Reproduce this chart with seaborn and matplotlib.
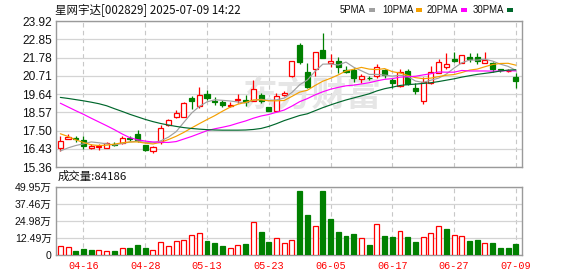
import numpy as np
import matplotlib
matplotlib.use("Agg")
import matplotlib.pyplot as plt
from matplotlib.patches import Rectangle
import seaborn as sns

# ---------------- data ----------------
title_text = "星网宇达[002829] 2025-07-09 14:22"
volume_caption = "成交量:84186"
watermark_text = "东方财富"

dates = ["04-11", "04-14", "04-15", "04-16", "04-17", "04-18", "04-21", "04-22", "04-23", "04-24",
         "04-25", "04-28", "04-29", "04-30", "05-06", "05-07", "05-08", "05-09", "05-12", "05-13",
         "05-14", "05-15", "05-16", "05-19", "05-20", "05-21", "05-22", "05-23", "05-26", "05-27",
         "05-28", "05-29", "05-30", "06-03", "06-04", "06-05", "06-06", "06-09", "06-10", "06-11",
         "06-12", "06-13", "06-16", "06-17", "06-18", "06-19", "06-20", "06-23", "06-24", "06-25",
         "06-26", "06-27", "06-30", "07-01", "07-02", "07-03", "07-04", "07-07", "07-08", "07-09"]

opens = [16.50, 17.02, 17.07, 16.97, 16.48, 16.54, 16.50, 16.70, 16.77, 17.05,
         17.30, 16.63, 16.32, 16.83, 17.80, 18.28, 18.30, 19.42, 18.93, 19.65,
         19.25, 19.18, 18.93, 19.26, 19.28, 19.24, 19.58, 18.85, 18.65, 19.57,
         20.70, 22.52, 20.92, 21.10, 22.22, 21.48, 21.57, 21.05, 21.02, 20.50,
         20.60, 20.70, 21.05, 20.46, 20.10, 20.97, 19.97, 19.21, 20.31, 20.90,
         21.22, 21.69, 21.48, 21.83, 21.79, 21.47, 21.44, 21.08, 20.97, 20.65]
highs = [17.16, 17.30, 17.17, 17.16, 16.73, 16.73, 16.81, 16.85, 17.16, 17.20,
         17.52, 16.63, 16.62, 17.83, 18.16, 18.70, 19.16, 19.54, 20.07, 19.85,
         19.45, 19.30, 19.15, 19.63, 19.56, 20.46, 19.67, 18.85, 19.71, 19.83,
         21.57, 22.65, 21.46, 22.08, 23.22, 21.98, 21.79, 21.26, 21.17, 20.83,
         20.69, 21.42, 21.08, 20.60, 21.12, 21.08, 20.31, 20.66, 21.27, 21.68,
         22.02, 22.12, 21.95, 22.03, 22.06, 22.12, 21.54, 21.12, 21.10, 20.85]
lows = [16.30, 16.98, 16.83, 16.44, 16.44, 16.34, 16.50, 16.62, 16.73, 16.90,
        16.83, 16.30, 16.17, 16.70, 17.77, 18.25, 18.29, 18.78, 18.79, 19.30,
        18.99, 18.90, 18.89, 19.09, 18.93, 19.24, 19.09, 18.62, 18.65, 19.53,
        20.65, 21.40, 19.97, 20.72, 21.73, 21.20, 20.90, 20.85, 20.33, 20.26,
        20.46, 20.55, 20.58, 20.00, 20.06, 20.16, 19.63, 19.05, 20.21, 20.85,
        21.09, 21.54, 21.46, 21.54, 21.40, 21.45, 20.95, 20.95, 20.95, 20.00]
closes = [16.87, 17.10, 17.00, 16.62, 16.58, 16.62, 16.77, 16.66, 17.05, 17.00,
          16.92, 16.36, 16.55, 17.62, 18.10, 18.52, 19.12, 19.22, 19.60, 19.42,
          19.15, 18.97, 19.00, 19.32, 19.17, 19.91, 19.24, 18.65, 19.52, 19.67,
          21.55, 21.50, 20.07, 22.08, 21.75, 21.58, 21.20, 20.95, 20.58, 20.69,
          20.55, 21.20, 20.73, 20.26, 20.95, 20.22, 19.83, 20.36, 20.91, 21.54,
          21.40, 21.59, 21.93, 21.67, 21.57, 21.62, 21.08, 21.03, 21.00, 20.40]
volumes_wan = [6.6, 5.9, 3.2, 4.4, 3.9, 3.9, 2.9, 3.2, 4.9, 5.1,
               7.6, 5.1, 3.7, 9.6, 6.6, 10.5, 11.0, 14.7, 16.2, 10.5,
               9.1, 6.9, 5.1, 7.3, 8.3, 24.5, 17.1, 9.8, 12.5, 8.8,
               11.0, 47.3, 29.4, 21.3, 47.0, 26.4, 17.1, 14.0, 15.4, 12.2,
               7.3, 22.8, 14.0, 13.2, 17.6, 13.2, 9.8, 13.2, 16.2, 21.1,
               19.1, 14.7, 14.0, 10.5, 11.0, 8.8, 9.1, 5.4, 5.4, 8.42]

ma5 = [16.30, 16.48, 16.62, 16.72, 16.83, 16.78, 16.72, 16.65, 16.74, 16.82,
       16.88, 16.80, 16.78, 16.89, 17.11, 17.43, 17.98, 18.52, 18.91, 19.18,
       19.30, 19.27, 19.23, 19.17, 19.12, 19.27, 19.33, 19.26, 19.30, 19.40,
       19.73, 20.18, 20.46, 20.97, 21.39, 21.40, 21.34, 21.51, 21.21, 21.00,
       20.79, 20.79, 20.75, 20.69, 20.74, 20.67, 20.40, 20.32, 20.45, 20.57,
       20.81, 21.16, 21.47, 21.63, 21.63, 21.68, 21.57, 21.39, 21.26, 21.03]
ma10 = [17.31, 17.15, 16.95, 16.80, 16.66, 16.62, 16.64, 16.70, 16.78, 16.83,
        16.83, 16.76, 16.71, 16.81, 16.97, 17.16, 17.39, 17.65, 17.90, 18.14,
        18.37, 18.63, 18.87, 19.04, 19.15, 19.29, 19.30, 19.24, 19.24, 19.26,
        19.50, 19.75, 19.86, 20.14, 20.39, 20.56, 20.76, 20.99, 21.09, 21.20,
        21.10, 21.07, 21.13, 20.95, 20.87, 20.73, 20.60, 20.54, 20.57, 20.66,
        20.74, 20.78, 20.90, 21.04, 21.10, 21.24, 21.37, 21.43, 21.44, 21.33]
ma20 = [19.10, 18.88, 18.66, 18.45, 18.22, 18.00, 17.78, 17.55, 17.30, 17.08,
        16.96, 16.88, 16.83, 16.81, 16.80, 16.85, 17.00, 17.15, 17.32, 17.49,
        17.60, 17.69, 17.79, 17.93, 18.06, 18.22, 18.35, 18.44, 18.57, 18.70,
        18.93, 19.19, 19.37, 19.59, 19.77, 19.92, 20.03, 20.12, 20.16, 20.23,
        20.30, 20.41, 20.50, 20.54, 20.63, 20.65, 20.68, 20.76, 20.83, 20.93,
        20.92, 20.92, 21.02, 20.99, 20.99, 20.99, 20.98, 20.99, 21.01, 20.99]
ma30 = [19.44, 19.38, 19.31, 19.24, 19.16, 19.07, 18.95, 18.78, 18.62, 18.45,
        18.30, 18.15, 18.02, 17.91, 17.82, 17.74, 17.67, 17.62, 17.58, 17.55,
        17.53, 17.52, 17.52, 17.52, 17.53, 17.56, 17.62, 17.74, 17.90, 18.08,
        18.23, 18.38, 18.48, 18.66, 18.84, 19.00, 19.15, 19.29, 19.41, 19.53,
        19.65, 19.82, 19.95, 20.04, 20.14, 20.19, 20.22, 20.26, 20.30, 20.37,
        20.45, 20.53, 20.63, 20.71, 20.79, 20.85, 20.91, 20.99, 21.04, 21.06]

price_ticks = [15.36, 16.43, 17.50, 18.57, 19.64, 20.71, 21.78, 22.85, 23.92]
vol_ticks = [0, 12.49, 24.98, 37.46, 49.95]
vol_tick_labels = ["0", "12.49万", "24.98万", "37.46万", "49.95万"]
date_ticks = ["04-16", "04-28", "05-13", "05-23", "06-05", "06-17", "06-27", "07-09"]
ma_names = ["5PMA", "10PMA", "20PMA", "30PMA"]

# ---------------- style ----------------
sns.set_style("white")
plt.rcParams["font.family"] = ["Liberation Sans", "Noto Sans CJK SC"]

RED = "#ff0000"
GREEN = "#008000"
MA_COLORS = ["#a0a0a0", "#f5a000", "#ff00ff", "#00672c"]
GRID = "#d4d4d4"
FRAME = "#9a9a9a"

W, H = 578, 276
fig = plt.figure(figsize=(W / 100, H / 100), dpi=100)
fig.patch.set_facecolor("white")


def fx(px):
    return px / W


def fy(py):
    return 1 - py / H


ax_p = fig.add_axes([fx(56), fy(167), (522 - 56) / W, (167 - 21) / H])
ax_v = fig.add_axes([fx(56), fy(255), (522 - 56) / W, (255 - 187) / H])

idx = np.arange(len(dates))
o = np.array(opens)
h = np.array(highs)
l = np.array(lows)
c = np.array(closes)
up = c >= o
cols = np.where(up, RED, GREEN)
body_lo = np.minimum(o, c)
body_hi = np.maximum(o, c)
body_h = np.maximum(body_hi - body_lo, 0.012)

# candles
ax_p.vlines(idx, l, body_lo, colors=cols, lw=0.9, zorder=3)
ax_p.vlines(idx, body_hi, h, colors=cols, lw=0.9, zorder=3)
ax_p.bar(idx, body_h, bottom=body_lo, width=0.66,
         color=np.where(up, "white", GREEN), edgecolor=cols, linewidth=0.9, zorder=4)

# moving averages
for series, col in zip([ma5, ma10, ma20, ma30], MA_COLORS):
    sns.lineplot(x=idx, y=series, ax=ax_p, color=col, linewidth=0.85, zorder=5)

# watermark
ax_p.text(0.55, 0.49, watermark_text, transform=ax_p.transAxes, fontsize=25,
          color="#e6e6e6", fontweight="bold", family=["Noto Sans CJK SC"],
          ha="center", va="center", zorder=0.6)

# volume
v = np.array(volumes_wan)
prev = np.concatenate([[o[0]], c[:-1]])
vup = c >= prev
vcols = np.where(vup, RED, GREEN)
ax_v.bar(idx, v, width=0.64, color=np.where(vup, "white", GREEN),
         edgecolor=vcols, linewidth=0.9, zorder=3)

tick_pos = [dates.index(d) for d in date_ticks]
for ax in (ax_p, ax_v):
    ax.set_xlim(-0.56, 59.8)
    ax.set_axisbelow(True)
    ax.set_xticks(tick_pos)
    ax.xaxis.grid(True, color="#c8c8c8", lw=0.8, ls=(0, (4, 3)))
    ax.yaxis.grid(True, color=GRID, lw=0.9, ls="-")
    ax.tick_params(axis="both", length=0, pad=3)
    for sp in ax.spines.values():
        sp.set_color(FRAME)
        sp.set_linewidth(1.0)
        sp.set_visible(True)
    ax.set_xlabel("")
    ax.set_ylabel("")

ax_p.set_ylim(15.36, 23.92)
ax_p.set_yticks(price_ticks)
ax_p.set_yticklabels([f"{t:.2f}" for t in price_ticks], fontsize=8.6, color="#111111")
ax_p.set_xticklabels([])

ax_v.set_ylim(0, 49.95)
ax_v.set_yticks(vol_ticks)
ax_v.set_yticklabels(vol_tick_labels, fontsize=7.6, color="#111111")
ax_v.set_xticklabels(date_ticks, fontsize=7.3, color=RED, family=["Liberation Mono"])
ax_v.tick_params(axis="x", pad=4)

# title and captions
fig.text(fx(55), fy(10), title_text, fontsize=8.3, ha="left", va="center",
         color="#111111", family=["Noto Sans CJK SC"])
fig.text(fx(58), fy(176), volume_caption, fontsize=8.2, ha="left", va="center",
         color="#111111", family=["Noto Sans CJK SC"])

# MA legend
leg_x = [340, 382, 427, 473]
for name, col, x0 in zip(ma_names, MA_COLORS, leg_x):
    t = fig.text(fx(x0), fy(10), name, fontsize=6.9, ha="left", va="center", color="#111111")
    fig.canvas.draw()
    bb = t.get_window_extent()
    fig.add_artist(Rectangle((bb.x1 / W + fx(3), fy(12)), 6 / W, 4 / H,
                             transform=fig.transFigure, color=col, lw=0))

fig.savefig("out.png", dpi=100)
